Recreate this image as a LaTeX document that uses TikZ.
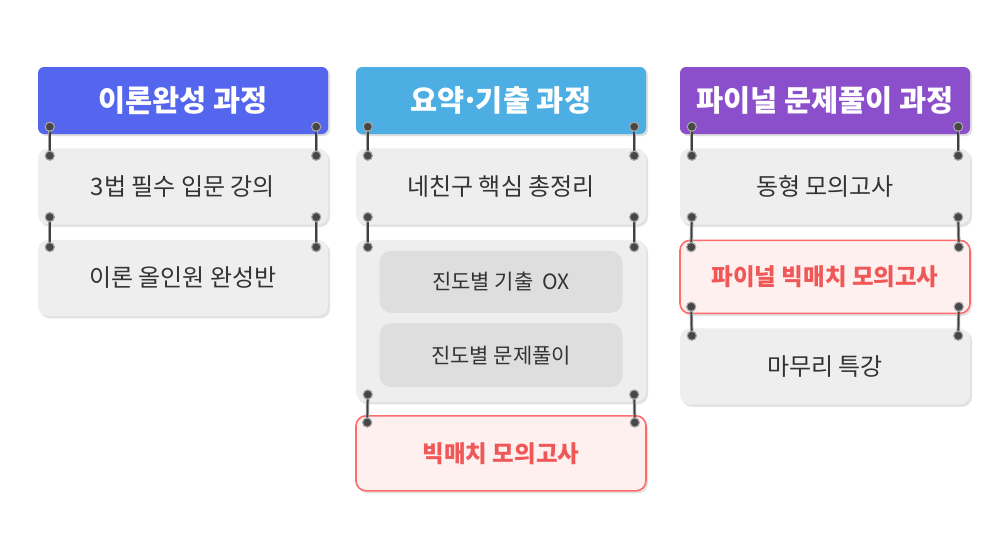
\documentclass[tikz,border=0pt]{standalone}
\usepackage{fontspec}
\setmainfont{Noto Sans CJK KR}
\usepackage{tikz}
\usetikzlibrary{positioning,calc,shadows}
\definecolor{hblue}{HTML}{5566EE}
\definecolor{hsky}{HTML}{4CAEE2}
\definecolor{hviolet}{HTML}{8B4FCC}
\definecolor{cardgray}{HTML}{EEEEEE}
\definecolor{subgray}{HTML}{DEDEDE}
\definecolor{txtgray}{HTML}{333333}
\definecolor{hotline}{HTML}{FF6B6B}
\definecolor{hotfill}{HTML}{FFF0F0}
\definecolor{hottext}{HTML}{F05858}
\tikzset{
  head/.style={rounded corners=6pt, minimum width=290pt, minimum height=67pt, inner sep=0pt,
    text=white, font=\fontsize{29.5}{34}\selectfont\bfseries,
    drop shadow={shadow xshift=2pt, shadow yshift=-2pt, fill=black!25}},
  card/.style={fill=cardgray, rounded corners=10pt, minimum width=290pt, minimum height=76pt, inner sep=0pt,
    text=txtgray, font=\fontsize{24}{28}\selectfont,
    drop shadow={shadow xshift=2pt, shadow yshift=-2.5pt, fill=black!22}},
  hot/.style={card, fill=hotfill, draw=hotline, line width=1.6pt, text=hottext,
    font=\fontsize{23.5}{28}\selectfont\bfseries},
  sub/.style={fill=subgray, rounded corners=12pt, minimum width=243pt, minimum height=62pt, inner sep=0pt,
    text=txtgray, font=\fontsize{21}{25}\selectfont},
  link/.style={draw=black!35, line width=0.8pt, double=black!75, double distance=1.7pt},
  rivet/.style={fill=black!72, draw=black!35, line width=1.1pt},
}
\newcommand{\hang}[2]{%
  \coordinate (#1-l) at ($(#1.south west)+(12pt,7.5pt)$);
  \coordinate (#1-r) at ($(#1.south east)+(-12pt,7.5pt)$);
  \coordinate (#2-l) at ($(#2.north west)+(12pt,-7.5pt)$);
  \coordinate (#2-r) at ($(#2.north east)+(-12pt,-7.5pt)$);
  \draw[link] (#1-l) -- (#2-l);
  \draw[link] (#1-r) -- (#2-r);
  \foreach \p in {#1-l,#1-r,#2-l,#2-r}
    \fill[rivet] (\p) circle (4.6pt);
}

\begin{document}
\begin{tikzpicture}[x=1pt, y=1pt, node distance=14pt]
\useasboundingbox[fill=white] (0,0) rectangle (1002,-554);

% column 1
\node (h1) [head, fill=hblue] at (183,-100.5) {이론완성 과정};
\node (c1a) [card, below=of h1] {3법 필수 입문 강의};
\node (c1b) [card, below=15pt of c1a] {이론 올인원 완성반};

% column 2
\node (h2) [head, fill=hsky] at (501,-100.5) {요약\kern-.12em·\kern-.12em기출 과정};
\node (c2a) [card, below=of h2] {네친구 핵심 총정리};
\node (c2b) [card, minimum height=162pt, below=15pt of c2a] {};
\node (s2a) [sub, below=11pt of c2b.north] {진도별 기출\ \ OX};
\node (s2b) [sub, minimum height=64pt, below=10pt of s2a] {진도별 문제풀이};
\node (c2c) [hot, minimum height=75pt, below=13pt of c2b] {빅매치 모의고사};

% column 3
\node (h3) [head, fill=hviolet] at (825,-100.5) {파이널 문제풀이 과정};
\node (c3a) [card, below=of h3] {동형 모의고사};
\node (c3b) [hot, minimum height=73pt, below=15pt of c3a] {파이널 빅매치 모의고사};
\node (c3c) [card, below=of c3b] {마무리 특강};

% hangers
\hang{h1}{c1a}
\hang{c1a}{c1b}
\hang{h2}{c2a}
\hang{c2a}{c2b}
\hang{c2b}{c2c}
\hang{h3}{c3a}
\hang{c3a}{c3b}
\hang{c3b}{c3c}
\end{tikzpicture}
\end{document}
